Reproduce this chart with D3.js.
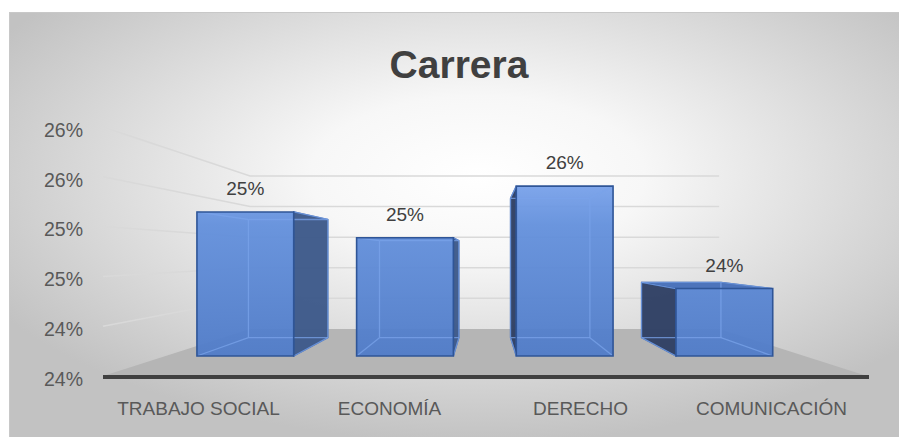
<!DOCTYPE html>
<html>
<head>
<meta charset="utf-8">
<script src="https://cdn.jsdelivr.net/npm/d3@7"></script>
<style>
  body { margin: 0; background: #ffffff; }
  svg { display: block; font-family: "Liberation Sans", Arial, sans-serif; }
</style>
</head>
<body>
<div class="chart_wrapper"></div>
<script>
// data
const categories = ["TRABAJO SOCIAL", "ECONOMÍA", "DERECHO", "COMUNICACIÓN"]
const values = [0.2523, 0.2492, 0.2554, 0.2431]
const yTicks = [0.235, 0.24, 0.245, 0.25, 0.255, 0.26]
const yTickLabels = ["24%", "24%", "25%", "25%", "26%", "26%"]

function drawChart () {

  let dimensions = {
    width: 899,
    height: 437,
  }

  // perspective: vanishing point and depth scale of each plane
  const vp = { x: 484, y: 254 }
  const sFront = 0.836   // bar front face
  const sBack = 0.686    // bar back face
  const sWall = 0.614    // back wall

  const proj = (x, y, s) => [vp.x + (x - vp.x) * s, vp.y + (y - vp.y) * s]

  const wrapper = d3.select(".chart_wrapper")
    .append("svg")
      .attr("width", dimensions.width)
      .attr("height", dimensions.height)

  const defs = wrapper.append("defs")

  const bg = defs.append("radialGradient")
    .attr("id", "bg")
    .attr("cx", 0.52).attr("cy", 0.38).attr("r", 0.62)
  bg.append("stop").attr("offset", 0).attr("stop-color", "#ffffff")
  bg.append("stop").attr("offset", 0.3).attr("stop-color", "#f7f7f7")
  bg.append("stop").attr("offset", 1).attr("stop-color", "#c2c2c2")

  const barGrad = defs.append("linearGradient")
    .attr("id", "barFill")
    .attr("gradientUnits", "userSpaceOnUse")
    .attr("x1", 0).attr("x2", 0).attr("y1", 180).attr("y2", 360)
  barGrad.append("stop").attr("offset", 0).attr("stop-color", "#7ba4ec")
  barGrad.append("stop").attr("offset", 0.25).attr("stop-color", "#6390dc")
  barGrad.append("stop").attr("offset", 1).attr("stop-color", "#4f7bc8")

  wrapper.append("rect")
    .attr("x", 9.5).attr("y", 12.5)
    .attr("width", 900).attr("height", 430)
    .attr("fill", "url(#bg)")
    .attr("stroke", "#c8c8c8")

  // scales in the front plane
  const xScale = d3.scaleBand()
    .domain(categories)
    .range([103, 867])
    .paddingInner(0.394)
    .paddingOuter(0.197)

  const yScale = d3.scaleLinear()
    .domain([0.235, 0.26])
    .range([376, 127])

  const line = d3.line()

  // gridlines: side wall + back wall
  const grid = wrapper.append("g")
  yTicks.slice(1).forEach(t => {
    const y = yScale(t)
    grid.append("path")
      .attr("d", line([proj(103, y, 1), proj(103, y, sWall), proj(867, y, sWall)]))
      .attr("fill", "none")
      .attr("stroke", "#d9d9d9")
      .attr("stroke-width", 1.5)
  })

  // floor
  const yBase = yScale(0.235)
  wrapper.append("path")
    .attr("d", line([proj(103, yBase, sWall), proj(867, yBase, sWall), proj(867, yBase, 1), proj(103, yBase, 1)]) + "Z")
    .attr("fill", "#b5b5b5")

  wrapper.append("line")
    .attr("x1", 103).attr("x2", 869)
    .attr("y1", yBase + 1).attr("y2", yBase + 1)
    .attr("stroke", "#404040")
    .attr("stroke-width", 4)

  // bars
  const bars = wrapper.append("g")
  categories.forEach((c, i) => {
    const x0 = xScale(c)
    const x1 = x0 + xScale.bandwidth()
    const yT = yScale(values[i])
    const g = bars.append("g")

    const face = pts => line(pts) + "Z"
    const front = [proj(x0, yT, sFront), proj(x1, yT, sFront), proj(x1, yBase, sFront), proj(x0, yBase, sFront)]
    const back = [proj(x0, yT, sBack), proj(x1, yT, sBack), proj(x1, yBase, sBack), proj(x0, yBase, sBack)]

    // top face seen from above
    if (yT > vp.y) {
      g.append("path")
        .attr("d", face([front[0], front[1], back[1], back[0]]))
        .attr("fill", "#4d74bb")
        .attr("stroke", "#2f5597")
        .attr("stroke-width", 1.2)
    }

    // visible side face
    const sx = x1 < vp.x ? 1 : 0
    const sideFill = sx === 1 ? "#3e5a8a" : "#2f4064"
    const side = sx === 1
      ? [front[1], back[1], back[2], front[2]]
      : [front[0], back[0], back[3], front[3]]
    g.append("path")
      .attr("d", face(side))
      .attr("fill", sideFill)
      .attr("fill-opacity", 0.97)
      .attr("stroke", "#2f5597")
      .attr("stroke-width", 1.2)

    g.append("path")
      .attr("d", face(front))
      .attr("fill", "url(#barFill)")
      .attr("fill-opacity", 0.95)

    // hidden edges shown through the face
    const hidden = [
      [back[0], back[1]], [back[1], back[2]], [back[2], back[3]], [back[3], back[0]],
      [front[0], back[0]], [front[1], back[1]], [front[2], back[2]], [front[3], back[3]]
    ]
    hidden.forEach(seg => {
      g.append("path")
        .attr("d", line(seg))
        .attr("stroke", "#7aa3ea")
        .attr("stroke-opacity", 0.75)
        .attr("stroke-width", 1.3)
    })

    g.append("path")
      .attr("d", face(front))
      .attr("fill", "none")
      .attr("stroke", "#2f5597")
      .attr("stroke-width", 1.6)

    // data label
    const [lx, ly] = proj(x0 + xScale.bandwidth() / 2, yT, sFront)
    g.append("text")
      .attr("x", lx)
      .attr("y", ly - 17)
      .attr("text-anchor", "middle")
      .attr("font-size", 19)
      .attr("fill", "#404040")
      .text(Math.round(values[i] * 100) + "%")
  })

  // axes
  const yAxis = d3.axisLeft(yScale)
    .tickValues(yTicks)
    .tickFormat((d, i) => yTickLabels[i])
    .tickSize(0)
    .tickPadding(2)

  wrapper.append("g")
    .attr("transform", "translate(85, 3)")
    .call(yAxis)
    .call(g => g.select(".domain").remove())
    .selectAll("text")
      .attr("font-size", 19.5)
      .attr("font-family", "Liberation Sans, Arial, sans-serif")
      .attr("fill", "#595959")

  const xAxis = d3.axisBottom(xScale)
    .tickSize(0)
    .tickPadding(0)

  wrapper.append("g")
    .attr("transform", "translate(0, 401)")
    .call(xAxis)
    .call(g => g.select(".domain").remove())
    .selectAll("text")
      .attr("font-size", 19)
      .attr("font-family", "Liberation Sans, Arial, sans-serif")
      .attr("fill", "#595959")

  // title
  wrapper.append("text")
    .attr("x", 459)
    .attr("y", 78)
    .attr("text-anchor", "middle")
    .attr("font-size", 39)
    .attr("font-weight", "bold")
    .attr("fill", "#404040")
    .text("Carrera")
}
drawChart()
</script>
</body>
</html>
